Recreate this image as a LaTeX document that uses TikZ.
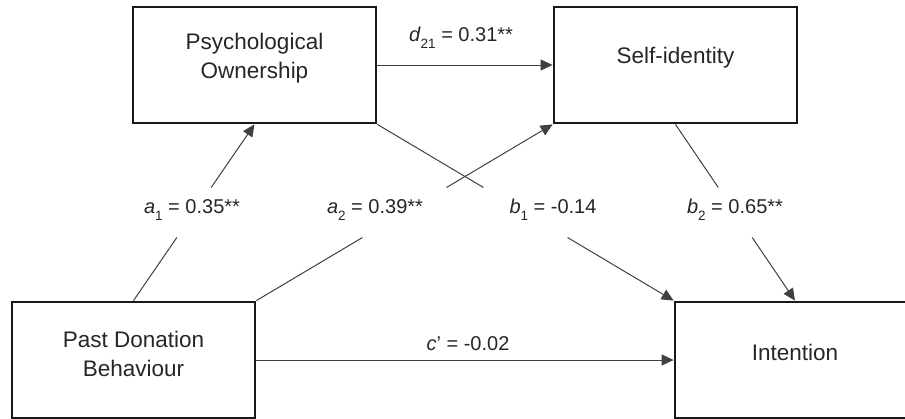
\documentclass[tikz,border=0pt]{standalone}
\usepackage{fontspec}
\setmainfont{Liberation Sans}
\usetikzlibrary{arrows.meta, calc}

\newcommand{\coefsub}[1]{\raisebox{-7pt}{\fontsize{13.5}{14}\selectfont #1}}

\begin{document}
\begin{tikzpicture}[
    x=1pt, y=-1pt,
    construct/.style={
        draw=black!90, line width=2.8pt,
        minimum width=243pt, minimum height=116pt,
        inner sep=0pt
    },
    boxtext/.style={
        align=center, text=black!85,
        font=\fontsize{22.5}{29}\selectfont
    },
    coef/.style={
        anchor=base, text=black!85,
        font=\fontsize{20}{24}\selectfont
    },
    link/.style={
        draw=black!75, line width=1pt
    },
    linkarrow/.style={
        link, -{Triangle[length=12pt, width=11pt]}
    }
]
\useasboundingbox (0,0) rectangle (905,418);

%% -- constructs ------------------------------
\node[construct] (psych) at (254.5,65) {};
\node[construct] (self) at (675.5,65) {};
\node[construct] (past) at (133.5,360) {};
\node[construct, minimum width=240pt] (intent) at (795,360) {};

\node[boxtext] (psychtxt) at ([yshift=7pt]psych.center) {Psychological\\Ownership};
\node[boxtext] (selftxt) at ([yshift=7pt]self.center) {Self-identity};
\node[boxtext] (pasttxt) at ([yshift=6pt]past.center) {Past Donation\\Behaviour};
\node[boxtext] (intenttxt) at ([yshift=8pt]intent.center) {Intention};

%% -- direct paths ----------------------------
\draw[linkarrow] (psych.east) -- (self.west);
\draw[linkarrow] (past.east) -- (intent.west);

%% -- paths cut by the coefficient row -------
% a1
\draw[link] (past.north) -- ($(past.north)!0.358!(psych.south)$);
\draw[linkarrow] ($(past.north)!0.642!(psych.south)$) -- (psych.south);
% a2
\draw[link] (past.north east) -- ($(past.north east)!0.358!(self.south west)$);
\draw[linkarrow] ($(past.north east)!0.642!(self.south west)$) -- (self.south west);
% b1
\draw[link] (psych.south east) -- ($(psych.south east)!0.358!(intent.north west)$);
\draw[linkarrow] ($(psych.south east)!0.642!(intent.north west)$) -- (intent.north west);
% b2
\draw[link] (self.south) -- ($(self.south)!0.358!(intent.north)$);
\draw[linkarrow] ($(self.south)!0.642!(intent.north)$) -- (intent.north);

%% -- coefficients ----------------------------
\node[coef] (d21) at (461,41) {\textit{d}\coefsub{21} = 0.31**};
\node[coef] (a1) at (192,213) {\textit{a}\coefsub{1} = 0.35**};
\node[coef] (a2) at (375,213) {\textit{a}\coefsub{2} = 0.39**};
\node[coef] (b1) at (553,213) {\textit{b}\coefsub{1} = -0.14};
\node[coef] (b2) at (735,213) {\textit{b}\coefsub{2} = 0.65**};
\node[coef] (cdash) at (468,350) {\textit{c}' = -0.02};

\end{tikzpicture}
\end{document}
